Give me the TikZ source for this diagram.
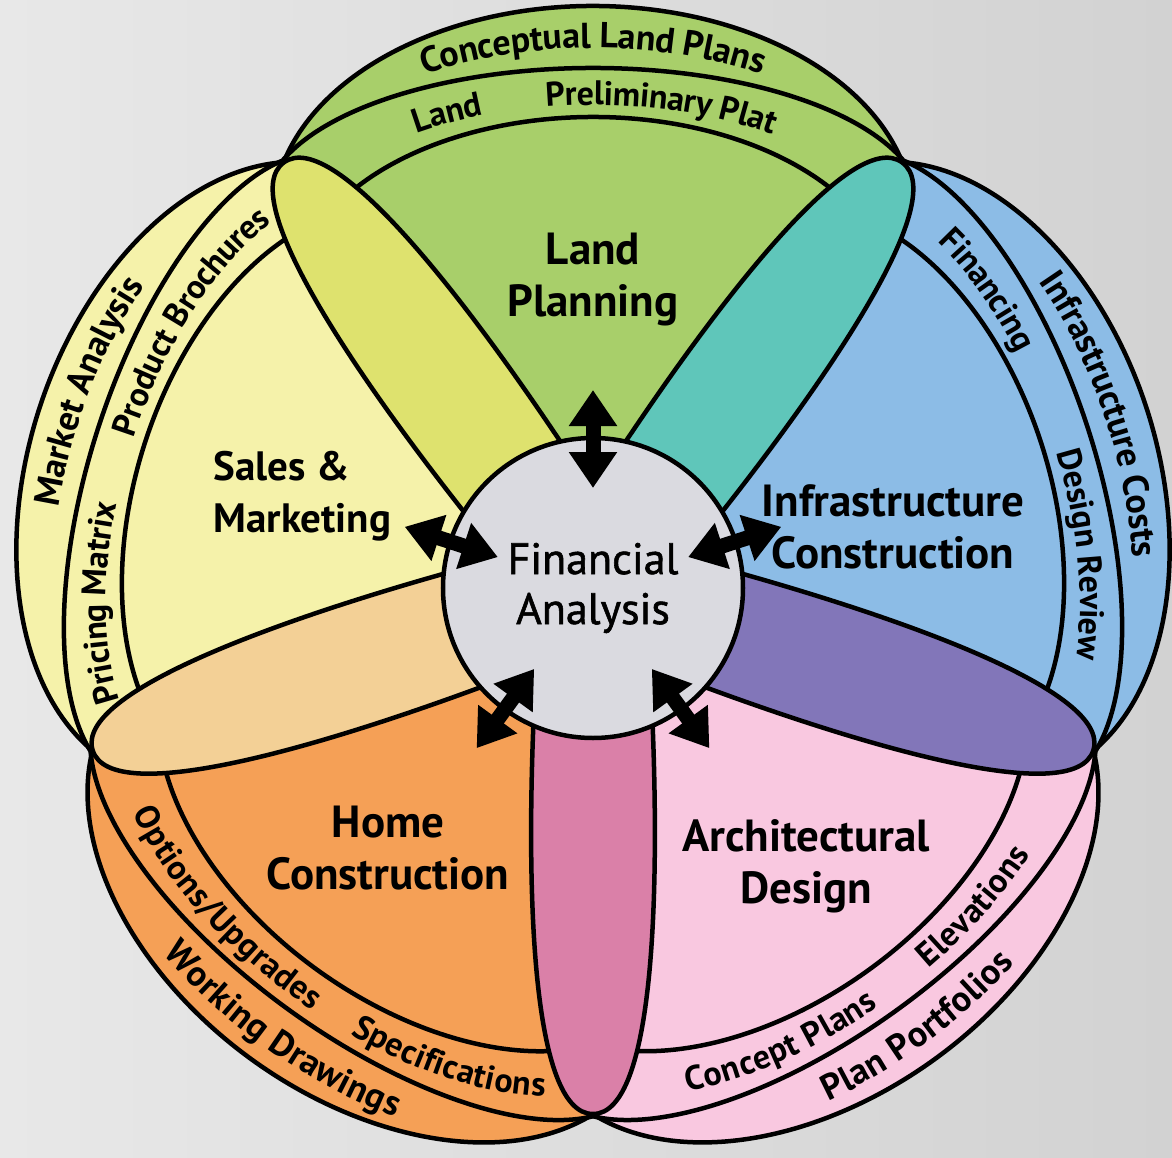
\documentclass[tikz,border=0pt]{standalone}
\usepackage{fontspec}
\setmainfont{PT Sans}
\newfontface\hubfont{PT Sans}[FakeBold=1.3]
\usetikzlibrary{arrows.meta}
\usetikzlibrary{calc}
\usetikzlibrary{decorations.text}

\definecolor{wallleft}{RGB}{232,232,232}
\definecolor{wallright}{RGB}{210,210,210}
\definecolor{landgreen}{RGB}{168,207,106}
\definecolor{salesyellow}{RGB}{245,242,170}
\definecolor{homeorange}{RGB}{245,160,86}
\definecolor{archpink}{RGB}{249,200,224}
\definecolor{infrablue}{RGB}{140,188,230}
\definecolor{limeleaf}{RGB}{222,226,110}
\definecolor{tealleaf}{RGB}{95,198,186}
\definecolor{purpleleaf}{RGB}{130,118,185}
\definecolor{roseleaf}{RGB}{218,128,168}
\definecolor{peachleaf}{RGB}{243,208,150}
\definecolor{hubgray}{RGB}{218,218,224}

\newcommand{\bandfont}{\bfseries\fontsize{36}{36}\selectfont}
\newcommand{\midfont}{\bfseries\fontsize{34}{34}\selectfont}

% petal drawn with its axis pointing up, then turned into place
\newcommand{\petal}[2]{%
  \begin{scope}[rotate=#1]
    \fill[#2] (0,0) -- ($(0,372)+(165.5:320 and 210)$)
      arc[start angle=165.5, end angle=14.5, x radius=320, y radius=210] -- cycle;
  \end{scope}}
% outer, middle and inner rim of a petal
\newcommand{\petalrims}[1]{%
  \begin{scope}[rotate=#1]
    \draw[rim] ($(0,372)+(165.5:320 and 210)$)
      arc[start angle=165.5, end angle=14.5, x radius=320, y radius=210];
    \draw[rim] ($(0,380)+(159.9:330 and 140)$)
      arc[start angle=159.9, end angle=20.1, x radius=330, y radius=140];
    \draw[rim] ($(0,288)+(153.6:300 and 183)$)
      arc[start angle=153.6, end angle=26.4, x radius=300, y radius=183];
  \end{scope}}
% text in a band: [font] rotation, centre height, x radius, y radius, from, to, text
\newcommand{\bandlabel}[8][\bandfont]{%
  \begin{scope}[rotate=#2]
    \path[decorate, decoration={text along path, text align=center, raise=-12pt,
        text={|#1|#8}}]
      ($(0,#3)+(#6:#4 and #5)$) arc[start angle=#6, end angle=#7, x radius=#4, y radius=#5];
  \end{scope}}

\begin{document}
\begin{tikzpicture}[x=1pt, y=1pt,
  rim/.style={line width=4.5pt, line cap=round},
  leaf/.style={draw, line width=4.5pt},
  hub/.style={circle, draw, line width=4.5pt, fill=hubgray, minimum size=300pt,
    inner sep=0pt, align=center, font=\hubfont\fontsize{44}{50}\selectfont},
  title/.style={align=center, font=\bfseries\fontsize{45}{52}\selectfont},
  link/.style={{Triangle[length=36pt,width=46pt]}-{Triangle[length=36pt,width=46pt]},
    line width=15pt}]

  % wall behind the flower
  \useasboundingbox (-593,-569) rectangle (579,588);
  \shade[left color=wallleft, right color=wallright] (-593,-569) rectangle (579,588);

  % petals
  \petal{0}{landgreen}
  \petal{72}{salesyellow}
  \petal{144}{homeorange}
  \petal{216}{archpink}
  \petal{-72}{infrablue}
  \foreach \r in {0,72,144,216,-72} {\petalrims{\r}}

  % band texts
  \bandlabel{0}{376}{325}{176}{140}{40}{Conceptual Land Plans}
  \bandlabel[\midfont]{0}{334}{315}{161}{139}{99}{Land}
  \bandlabel[\midfont]{0}{334}{315}{161}{113}{37}{Preliminary Plat}
  \bandlabel{72}{376}{325}{176}{128}{38}{Market Analysis}
  \bandlabel[\midfont]{72}{334}{315}{161}{162}{92}{Pricing Matrix}
  \bandlabel[\midfont]{72}{334}{315}{161}{102}{17}{Product Brochures}
  \bandlabel{-72}{376}{325}{176}{142}{42}{Infrastructure Costs}
  \bandlabel[\midfont]{-72}{334}{315}{161}{152}{96}{Financing}
  \bandlabel[\midfont]{-72}{334}{315}{161}{103}{23}{Design Review}
  \bandlabel{144}{376}{325}{176}{42}{142}{Working Drawings}
  \bandlabel[\midfont]{144}{334}{315}{161}{23}{107}{Options/Upgrades}
  \bandlabel[\midfont]{144}{334}{315}{161}{91}{160}{Specifications}
  \bandlabel{216}{376}{325}{176}{46}{136}{Plan Portfolios}
  \bandlabel[\midfont]{216}{334}{315}{161}{30}{100}{Concept Plans}
  \bandlabel[\midfont]{216}{334}{315}{161}{85}{145}{Elevations}

  % overlaps between neighbouring petals, round at the outer tip
  \foreach \a/\c in {126/limeleaf, 54/tealleaf, -18/purpleleaf, 270/roseleaf, 198/peachleaf}
    {\draw[leaf, fill=\c, rotate=\a] (100,-58) .. controls (300,-68) and (526,-62) .. (526,0)
       .. controls (526,62) and (300,68) .. (100,58) -- cycle;}

  \node[title] (land) at (0,308) {Land\\Planning};
  \node[title, align=left, anchor=west, font=\bfseries\fontsize{41}{52}\selectfont]
    (sales) at (-383,92) {Sales \&\\Marketing};
  \node[title] (infra) at (300,61) {Infrastructure\\Construction};
  \node[title] (home) at (-205,-260) {Home\\Construction};
  \node[title] (arch) at (213,-278) {Architectural\\Design};
  \node[hub] (fa) at (0,0) {Financial\\Analysis};

  % two-way arrows across the rim of the hub
  \foreach \a [count=\i] in {90,162,234,306,18} {
    \coordinate (in\i) at (\a:100);
    \coordinate (out\i) at (\a:198);
    \draw[link] (in\i) -- (out\i);
  }
\end{tikzpicture}
\end{document}
